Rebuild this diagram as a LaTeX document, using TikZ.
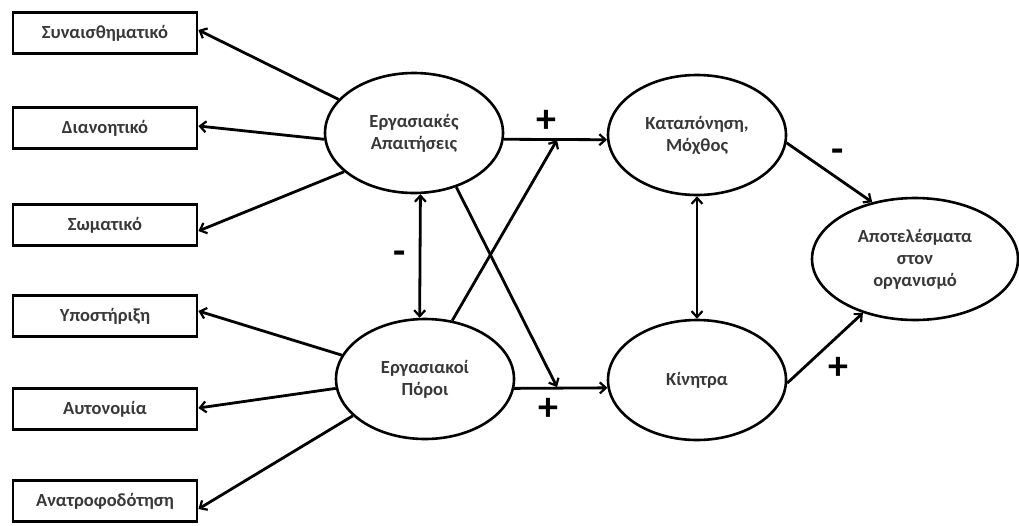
\documentclass[tikz,border=0pt]{standalone}
\usepackage{fontspec}
\setmainfont{Carlito}
\usetikzlibrary{shapes.geometric,arrows.meta}
\begin{document}
\begin{tikzpicture}[x=1pt,y=-1pt,
  every node/.style={font=\fontsize{18.5}{22}\selectfont\bfseries, text=black!78},
  oval/.style={ellipse, draw, line width=2.6pt, inner sep=0pt, minimum width=178pt, minimum height=120pt, align=center},
  bigoval/.style={oval, minimum width=206pt, minimum height=122pt},
  facet/.style={rectangle, draw, line width=2.8pt, minimum width=184pt, minimum height=41pt, inner sep=0pt},
  arr/.style={line width=2.8pt, -{Straight Barb[length=6pt,width=11pt,line width=2.2pt]}},
  darr/.style={line width=2.8pt, {Straight Barb[length=6pt,width=11pt,line width=2.2pt]}-{Straight Barb[length=6pt,width=11pt,line width=2.2pt]}},
  sign/.style={font=\fontsize{40}{42}\selectfont\bfseries, text=black}
]
\useasboundingbox (0,0) rectangle (1019,525);

% facet boxes
\node[facet] (b1) at (105,33)  {Συναισθηματικό};
\node[facet] (b2) at (105,128) {Διανοητικό};
\node[facet] (b3) at (105,225) {Σωματικό};
\node[facet] (b4) at (105,316) {Υποστήριξη};
\node[facet] (b5) at (105,409) {Αυτονομία};
\node[facet] (b6) at (105,501) {Ανατροφοδότηση};

% ellipses
\node[oval] (A)  at (414,133) {Εργασιακές\\Απαιτήσεις};
\node[oval] (P)  at (425,379) {Εργασιακοί\\Πόροι};
\node[oval] (K)  at (697,135) {Καταπόνηση,\\Μόχθος};
\node[oval] (Ki) at (697,380) {Κίνητρα};
\node[bigoval] (R) at (915,259) {Αποτελέσματα\\στον\\οργανισμό};

% left arrows
\draw[arr] (A.156) -- ([yshift=3pt]b1.east);
\draw[arr] (A.184) -- ([yshift=2pt]b2.east);
\draw[arr] (A.209) -- ([yshift=-6pt]b3.east);
\draw[arr] (P.164) -- ([yshift=5pt]b4.east);
\draw[arr] (P.186) -- ([yshift=1pt]b5.east);
\draw[arr] (P.207) -- ([yshift=-8pt]b6.east);

% paths through the middle
\coordinate (m1) at (557,140);
\coordinate (m2) at (557,387);
\draw[arr] (A.-4) -- (K.183);
\draw[arr] (P.-6) -- (Ki.185);
\draw[arr] (P.65) -- (m1);
\draw[arr] (A.-52) -- (m2);
\draw[darr] (A.-84) -- (P.95);
\draw[darr] (K.south) -- (Ki.north);
\draw[arr] (K.-5) -- (R.127);
\draw[arr] (Ki.-2) -- (R.226);

% signs
\node[sign] (s1) at (546,121) {+};
\node[sign] (s2) at (548,409) {+};
\node[sign] (s3) at (400,258) {-};
\node[sign] (s4) at (838,156) {-};
\node[sign] (s5) at (838,368) {+};
\end{tikzpicture}
\end{document}
